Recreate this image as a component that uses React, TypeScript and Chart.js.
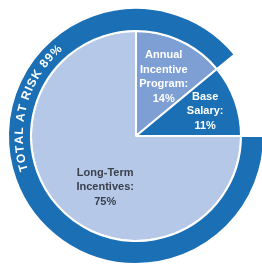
import React, { useEffect, useRef } from "react";
import { Chart, registerables } from "chart.js";

Chart.register(...registerables);

// ---- data ----
const categories = ["Annual Incentive Program", "Base Salary", "Long-Term Incentives"];
const values = [14, 11, 75];
const labelLines = [
  ["Annual", "Incentive", "Program:", "14%"],
  ["Base", "Salary:", "11%"],
  ["Long-Term", "Incentives:", "75%"],
];
const ringCategories = ["Total at risk", "Not at risk"];
const ringValues = [89, 11];
const ringTitle = "TOTAL AT RISK 89%";

// ---- styles ----
const DARK = "#1b6fb5";
const LIGHT = "#b5c8e8";
const MID = "#7e9fd4";
const sliceColors = [MID, DARK, LIGHT];
const labelColors = ["#ffffff", "#ffffff", "#3b414c"];
const labelAngleDeg: (number | null)[] = [null, null, 121];
const labelRadiusFrac = [0.62, 0.7, 0.57];
const FONT = "'Liberation Sans', Arial, sans-serif";

const labelPlugin = {
  id: "sliceLabels",
  afterDatasetsDraw(chart: any) {
    const ctx = chart.ctx as CanvasRenderingContext2D;
    ctx.save();
    // slice labels
    const meta = chart.getDatasetMeta(1);
    meta.data.forEach((arc: any, i: number) => {
      const p = arc.getProps(["x", "y", "startAngle", "endAngle", "outerRadius"], true);
      const a =
        labelAngleDeg[i] != null ? (labelAngleDeg[i]! * Math.PI) / 180 : (p.startAngle + p.endAngle) / 2;
      const r = p.outerRadius * labelRadiusFrac[i];
      const cx = p.x + Math.cos(a) * r;
      const cy = p.y + Math.sin(a) * r;
      const lines = labelLines[i];
      const lh = 14.5;
      ctx.font = `bold 11px ${FONT}`;
      ctx.fillStyle = labelColors[i];
      ctx.textAlign = "center";
      ctx.textBaseline = "middle";
      lines.forEach((ln, k) => {
        ctx.fillText(ln, cx, cy + (k - (lines.length - 1) / 2) * lh);
      });
    });
    // ring text along arc
    const ring = chart.getDatasetMeta(0).data[0];
    const rp = ring.getProps(["x", "y", "innerRadius", "outerRadius"], true);
    const r = (rp.innerRadius + rp.outerRadius) / 2;
    ctx.font = `bold 12px ${FONT}`;
    ctx.fillStyle = "#ffffff";
    ctx.textAlign = "center";
    ctx.textBaseline = "middle";
    const spacing = 1.1;
    const chars = ringTitle.split("");
    const widths = chars.map((c) => ctx.measureText(c).width);
    const total = widths.reduce((s, w) => s + w, 0) + spacing * (chars.length - 1);
    const mid = (196 * Math.PI) / 180;
    let pos = 0;
    const start = mid - total / (2 * r);
    chars.forEach((c, k) => {
      const ang = start + (pos + widths[k] / 2) / r;
      ctx.save();
      ctx.translate(rp.x + Math.cos(ang) * r, rp.y + Math.sin(ang) * r);
      ctx.rotate(ang + Math.PI / 2);
      ctx.fillText(c, 0, 0);
      ctx.restore();
      pos += widths[k] + spacing;
    });
    ctx.restore();
  },
};

export default function App() {
  const ref = useRef<HTMLCanvasElement | null>(null);
  useEffect(() => {
    if (!ref.current) return;
    const chart = new Chart(ref.current, {
      type: "pie",
      data: {
        labels: categories,
        datasets: [
          {
            label: "ring",
            data: ringValues,
            backgroundColor: [DARK, "rgba(0,0,0,0)"],
            borderColor: "#ffffff",
            borderWidth: [2, 0],
            weight: 23,
            rotation: 90,
          } as any,
          {
            label: "pay mix",
            data: values,
            backgroundColor: sliceColors,
            borderColor: "#ffffff",
            borderWidth: 2,
            weight: 105,
          } as any,
        ],
      },
      options: {
        responsive: false,
        animation: false,
        events: [],
        radius: 128,
        layout: { padding: 0 },
        plugins: { legend: { display: false }, tooltip: { enabled: false } },
      } as any,
      plugins: [labelPlugin],
    });
    return () => chart.destroy();
  }, []);
  return (
    <div style={{ position: "absolute", left: 0, top: 0, width: 262, height: 268, overflow: "hidden", background: "#fff" }}>
      <canvas ref={ref} width={272} height={272} style={{ width: 272, height: 272, display: "block" }} />
    </div>
  );
}
